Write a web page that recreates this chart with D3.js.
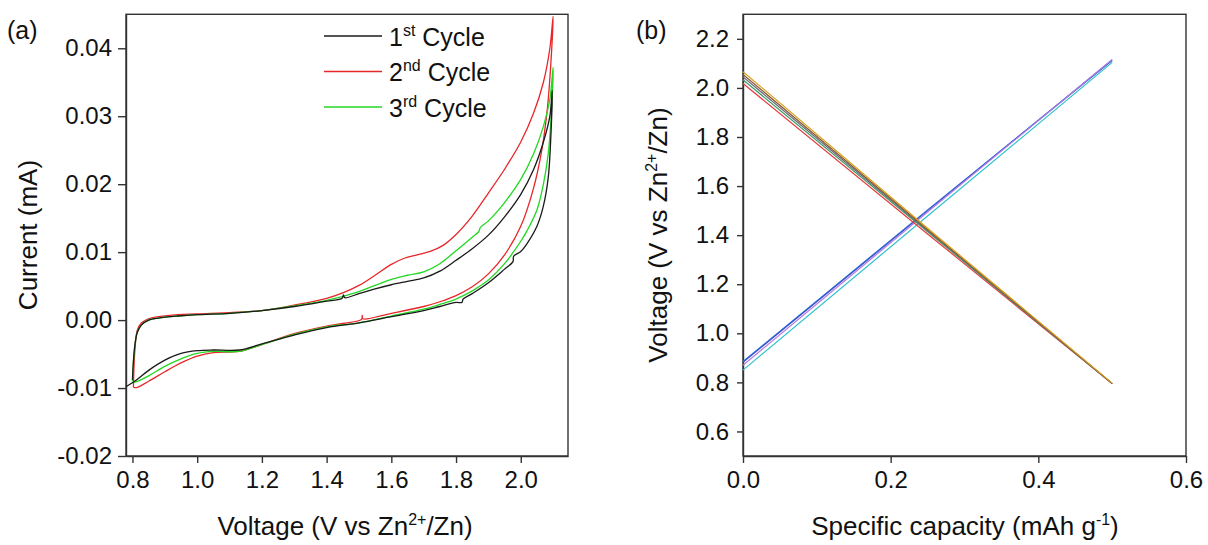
<!DOCTYPE html>
<html>
<head>
<meta charset="utf-8">
<script src="https://cdn.jsdelivr.net/npm/d3@7"></script>
<style>
  html, body { margin: 0; padding: 0; background: #fff; }
  svg { display: block; font-family: "Liberation Sans", Arial, sans-serif; }
  .axis path, .axis line { stroke: #333; stroke-width: 1.4; }
  .axis text { font-size: 24px; fill: #111; font-family: "Liberation Sans", Arial, sans-serif; }
</style>
</head>
<body>
<svg id="chart" width="1208" height="545"></svg>
<script>
// ---------- Panel (a): cyclic voltammetry, three cycles ----------
// Each cycle: anodic (upper) branch from 0.8 V up, cathodic (lower) branch back down.
const cycle1Upper = [
  [0.800, -0.0088], [0.803, -0.0060], [0.808, -0.0035], [0.815, -0.0018], [0.828, -0.0007],
  [0.850, 0.0000], [0.880, 0.0003], [0.940, 0.0006], [1.000, 0.0008], [1.100, 0.0010],
  [1.200, 0.0014], [1.300, 0.0020], [1.400, 0.0028], [1.448, 0.0032], [1.452, 0.0037],
  [1.456, 0.0033], [1.500, 0.0039], [1.550, 0.0046], [1.600, 0.0052], [1.650, 0.0057],
  [1.700, 0.0062], [1.750, 0.0072], [1.800, 0.0088], [1.850, 0.0105], [1.900, 0.0125],
  [1.950, 0.0152], [2.000, 0.0185], [2.040, 0.0222], [2.070, 0.0262], [2.090, 0.0300],
  [2.097, 0.0338]
];
const cycle1Lower = [
  [2.097, 0.0338], [2.092, 0.0260], [2.085, 0.0210], [2.070, 0.0168], [2.050, 0.0138],
  [2.020, 0.0113], [2.000, 0.0101], [1.978, 0.0094], [1.976, 0.0086], [1.950, 0.0075],
  [1.900, 0.0055], [1.850, 0.0039], [1.822, 0.0031], [1.818, 0.0026], [1.800, 0.0026],
  [1.750, 0.0020], [1.700, 0.0014], [1.600, 0.0005], [1.500, -0.0004], [1.400, -0.0011],
  [1.300, -0.0022], [1.200, -0.0035], [1.130, -0.0044], [1.050, -0.0044], [1.000, -0.0045],
  [0.950, -0.0049], [0.900, -0.0059], [0.850, -0.0074], [0.810, -0.0089], [0.780, -0.0098]
];
const cycle2Upper = [
  [0.803, -0.0099], [0.805, -0.0065], [0.809, -0.0035], [0.815, -0.0015], [0.828, -0.0004],
  [0.850, 0.0002], [0.880, 0.0005], [0.940, 0.0008], [1.000, 0.0009], [1.100, 0.0011],
  [1.200, 0.0014], [1.300, 0.0022], [1.400, 0.0032], [1.450, 0.0040], [1.500, 0.0051],
  [1.550, 0.0066], [1.600, 0.0082], [1.640, 0.0091], [1.680, 0.0096], [1.720, 0.0101],
  [1.760, 0.0110], [1.800, 0.0126], [1.850, 0.0153], [1.900, 0.0187], [1.950, 0.0222],
  [2.000, 0.0262], [2.040, 0.0305], [2.070, 0.0350], [2.090, 0.0400], [2.100, 0.0447]
];
const cycle2Lower = [
  [2.100, 0.0447], [2.092, 0.0370], [2.082, 0.0310], [2.065, 0.0250], [2.040, 0.0195],
  [2.000, 0.0138], [1.950, 0.0096], [1.900, 0.0068], [1.850, 0.0049], [1.800, 0.0036],
  [1.750, 0.0027], [1.700, 0.0020], [1.600, 0.0010], [1.512, 0.0002], [1.510, 0.0007],
  [1.508, 0.0001], [1.450, -0.0005], [1.400, -0.0009], [1.300, -0.0020], [1.200, -0.0036],
  [1.130, -0.0046], [1.050, -0.0048], [1.000, -0.0053], [0.950, -0.0063], [0.900, -0.0076],
  [0.850, -0.0090], [0.815, -0.0099], [0.803, -0.0099]
];
const cycle3Upper = [
  [0.800, -0.0090], [0.803, -0.0062], [0.808, -0.0035], [0.815, -0.0018], [0.828, -0.0007],
  [0.850, 0.0000], [0.880, 0.0003], [0.940, 0.0006], [1.000, 0.0008], [1.100, 0.0010],
  [1.200, 0.0014], [1.300, 0.0021], [1.400, 0.0029], [1.500, 0.0042], [1.550, 0.0051],
  [1.600, 0.0060], [1.650, 0.0066], [1.700, 0.0071], [1.750, 0.0083], [1.800, 0.0102],
  [1.850, 0.0122], [1.870, 0.0130], [1.875, 0.0136], [1.900, 0.0146], [1.950, 0.0173],
  [2.000, 0.0207], [2.040, 0.0245], [2.070, 0.0285], [2.090, 0.0325], [2.100, 0.0372]
];
const cycle3Lower = [
  [2.100, 0.0372], [2.094, 0.0300], [2.085, 0.0245], [2.070, 0.0200], [2.050, 0.0162],
  [2.020, 0.0132], [2.000, 0.0116], [1.950, 0.0083], [1.900, 0.0059], [1.870, 0.0049],
  [1.850, 0.0043], [1.800, 0.0031], [1.750, 0.0023], [1.700, 0.0016], [1.600, 0.0006],
  [1.500, -0.0004], [1.400, -0.0010], [1.300, -0.0021], [1.200, -0.0036], [1.130, -0.0046],
  [1.050, -0.0046], [1.000, -0.0049], [0.950, -0.0057], [0.900, -0.0068], [0.850, -0.0082],
  [0.810, -0.0091], [0.800, -0.0092]
];
const cycleNames = ["1", "2", "3"];
const cycleSup = ["st", "nd", "rd"];
const cycleColors = ["#1a1a1a", "#e8262a", "#22d822"];

const voltTicksA = [0.8, 1.0, 1.2, 1.4, 1.6, 1.8, 2.0];
const currentTicks = [-0.02, -0.01, 0.00, 0.01, 0.02, 0.03, 0.04];

// ---------- Panel (b): galvanostatic charge / discharge ----------
const capacityPts = [0, 0.25, 0.5];
const dischargeCurves = [
  { color: "#e8393d", v: [2.018, 1.405, 0.795] },
  { color: "#3d9a66", v: [2.033, 1.414, 0.795] },
  { color: "#6a6478", v: [2.045, 1.419, 0.795] },
  { color: "#8a5a30", v: [2.055, 1.423, 0.795] },
  { color: "#d9a21e", v: [2.066, 1.428, 0.797] }
];
const chargeCurves = [
  { color: "#2f86d8", v: [0.885, 1.503, 2.112] },
  { color: "#3a4fd0", v: [0.882, 1.500, 2.114] },
  { color: "#b27be3", v: [0.870, 1.494, 2.116] },
  { color: "#2ec3cc", v: [0.850, 1.478, 2.104] }
];
const capTicks = [0.0, 0.2, 0.4, 0.6];
const voltTicksB = [0.6, 0.8, 1.0, 1.2, 1.4, 1.6, 1.8, 2.0, 2.2];

const svg = d3.select("#chart");
const TITLE = 26, SUP = 16;

// text with a raised part, e.g. "Zn" + "2+" + "/Zn)"
function supText(sel, before, sup, after, size, supSize) {
  sel.append("tspan").text(before);
  sel.append("tspan").attr("font-size", supSize).attr("dy", -size * 0.4).text(sup);
  sel.append("tspan").attr("dy", size * 0.4).text(after);
}

// ---------- draw panel (a) ----------
const xa = d3.scaleLinear().domain([0.78, 2.146]).range([126, 568]);
const ya = d3.scaleLinear().domain([-0.02, 0.045]).range([456, 14.3]);
const ga = svg.append("g");

ga.append("g").attr("class", "axis")
  .attr("transform", "translate(0,456)")
  .call(d3.axisBottom(xa).tickValues(voltTicksA).tickSizeInner(7).tickSizeOuter(0)
        .tickPadding(8).tickFormat(d => d.toFixed(1)));
ga.append("g").attr("class", "axis")
  .attr("transform", "translate(126,0)")
  .call(d3.axisLeft(ya).tickValues(currentTicks).tickSizeInner(8).tickSizeOuter(0)
        .tickPadding(6).tickFormat(d => d.toFixed(2)));
ga.append("rect").attr("x", 126).attr("y", 14.3).attr("width", 442).attr("height", 441.7)
  .attr("fill", "none").attr("stroke", "#333").attr("stroke-width", 1.4);

const lineA = d3.line().x(d => xa(d[0])).y(d => ya(d[1])).curve(d3.curveCatmullRom.alpha(0.5));
const cycles = [
  cycle1Upper.concat(cycle1Lower.slice(1)),
  cycle2Upper.concat(cycle2Lower.slice(1)),
  cycle3Upper.concat(cycle3Lower.slice(1))
];
// red first, then green, black last on top
[1, 2, 0].forEach(i => {
  ga.append("path").datum(cycles[i])
    .attr("d", lineA).attr("fill", "none")
    .attr("stroke", cycleColors[i]).attr("stroke-width", 1.3);
});

// legend
const legend = ga.append("g");
cycleNames.forEach((n, i) => {
  const y = 36 + i * 35.5;
  legend.append("line").attr("x1", 324).attr("x2", 382).attr("y1", y).attr("y2", y)
    .attr("stroke", cycleColors[i]).attr("stroke-width", 1.3);
  const t = legend.append("text").attr("x", 389).attr("y", y + 9.5)
    .attr("font-size", 25).attr("fill", "#111");
  supText(t, n, cycleSup[i], " Cycle", 25, SUP);
});

ga.append("text").attr("x", 7).attr("y", 39).attr("font-size", 25).attr("fill", "#111").text("(a)");
ga.append("text").attr("transform", "translate(37,235) rotate(-90)")
  .attr("text-anchor", "middle").attr("font-size", TITLE).attr("fill", "#111").text("Current (mA)");
const xtA = ga.append("text").attr("x", 345).attr("y", 535)
  .attr("text-anchor", "middle").attr("font-size", TITLE).attr("fill", "#111");
supText(xtA, "Voltage (V vs Zn", "2+", "/Zn)", TITLE, SUP);

// ---------- draw panel (b) ----------
const xb = d3.scaleLinear().domain([0, 0.6]).range([743, 1186]);
const yb = d3.scaleLinear().domain([0.5, 2.3]).range([456, 14.3]);
const gb = svg.append("g");

gb.append("g").attr("class", "axis")
  .attr("transform", "translate(0,456)")
  .call(d3.axisBottom(xb).tickValues(capTicks).tickSizeInner(7).tickSizeOuter(0)
        .tickPadding(8).tickFormat(d => d.toFixed(1)));
gb.append("g").attr("class", "axis")
  .attr("transform", "translate(743,0)")
  .call(d3.axisLeft(yb).tickValues(voltTicksB).tickSizeInner(6).tickSizeOuter(0)
        .tickPadding(8).tickFormat(d => d.toFixed(1)));
gb.append("rect").attr("x", 743).attr("y", 14.3).attr("width", 443).attr("height", 441.7)
  .attr("fill", "none").attr("stroke", "#333").attr("stroke-width", 1.4);

const lineB = d3.line().x((d, i) => xb(capacityPts[i])).y(d => yb(d));
chargeCurves.concat(dischargeCurves).forEach(c => {
  gb.append("path").datum(c.v).attr("d", lineB).attr("fill", "none")
    .attr("stroke", c.color).attr("stroke-width", 1.2);
});

gb.append("text").attr("x", 636).attr("y", 39).attr("font-size", 25).attr("fill", "#111").text("(b)");
const ytB = gb.append("text").attr("transform", "translate(667,235) rotate(-90)")
  .attr("text-anchor", "middle").attr("font-size", TITLE).attr("fill", "#111");
supText(ytB, "Voltage (V vs Zn", "2+", "/Zn)", TITLE, SUP);
const xtB = gb.append("text").attr("x", 965).attr("y", 535)
  .attr("text-anchor", "middle").attr("font-size", TITLE).attr("fill", "#111");
supText(xtB, "Specific capacity (mAh g", "-1", ")", TITLE, SUP);
</script>
</body>
</html>
